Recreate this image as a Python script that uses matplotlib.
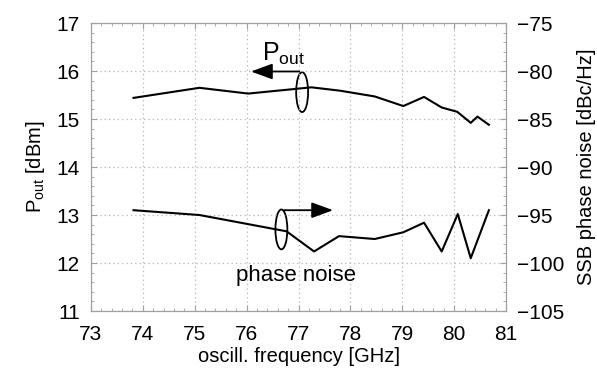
import matplotlib.pyplot as plt
from matplotlib.patches import Ellipse
from matplotlib.ticker import MultipleLocator

plt.rcParams['font.family'] = ['Liberation Sans', 'DejaVu Sans']

# output power vs frequency
f_pout = [73.82, 75.09, 76.03, 77.25, 77.80, 78.47, 79.02, 79.42, 79.76, 80.06, 80.32, 80.45, 80.67]
pout = [15.44, 15.65, 15.53, 15.66, 15.59, 15.47, 15.27, 15.46, 15.24, 15.15, 14.92, 15.05, 14.88]

# SSB phase noise vs frequency
f_pn = [73.82, 75.09, 76.77, 77.30, 77.78, 78.47, 79.02, 79.42, 79.76, 80.07, 80.32, 80.67]
pn = [-94.5, -95.0, -96.7, -98.8, -97.2, -97.5, -96.8, -95.8, -98.8, -94.9, -99.5, -94.5]

x_ticks = [73, 74, 75, 76, 77, 78, 79, 80, 81]
left_ticks = [11, 12, 13, 14, 15, 16, 17]
right_ticks = [-105, -100, -95, -90, -85, -80, -75]

fig = plt.figure(figsize=(5.97, 3.73), dpi=100)
ax = fig.add_axes([0.1524, 0.1662, 0.6952, 0.7721])
ax2 = ax.twinx()

ax.plot(f_pout, pout, color='black', lw=1.5)
ax2.plot(f_pn, pn, color='black', lw=1.5)

ax.set_xlim(73, 81)
ax.set_ylim(11, 17)
ax2.set_ylim(-105, -75)
ax.set_xticks(x_ticks)
ax.set_yticks(left_ticks)
ax2.set_yticks(right_ticks)
ax.xaxis.set_minor_locator(MultipleLocator(0.2))
ax.yaxis.set_minor_locator(MultipleLocator(0.2))
ax2.yaxis.set_minor_locator(MultipleLocator(1))

ax.grid(True, which='major', color='#b5b5b5', linestyle=(0, (1, 2.5)), lw=0.9)
ax.tick_params(which='both', direction='in', top=True, colors='#a0a0a0', labelcolor='black', labelsize=15)
ax.tick_params(which='major', length=4)
ax.tick_params(which='minor', length=2)
ax.tick_params(axis='x', pad=10)
ax.tick_params(axis='y', pad=8)
ax2.tick_params(which='both', direction='in', colors='#a0a0a0', labelcolor='black', labelsize=15, pad=8)
ax2.tick_params(which='major', length=4)
ax2.tick_params(which='minor', length=2)
for a in (ax, ax2):
    for s in a.spines.values():
        s.set_color('#a0a0a0')

ax.set_xlabel('oscill. frequency [GHz]', fontsize=14.5, labelpad=2)
ax.set_ylabel(r'P$_\mathregular{out}$ [dBm]', fontsize=14.5, labelpad=7)
ax2.set_ylabel('SSB phase noise [dBc/Hz]', fontsize=14.5, labelpad=9)

# P_out annotation (left axis)
ax.add_patch(Ellipse((77.07, 15.56), 0.23, 0.83, fill=False, lw=1.3, color='black'))
ax.annotate('', xy=(76.03, 15.99), xytext=(77.07, 15.99),
            arrowprops=dict(arrowstyle='-|>,head_length=0.6,head_width=0.22',
                            color='black', lw=1.3, mutation_scale=22))
ax.text(76.72, 16.22, r'P$_\mathregular{out}$', fontsize=18, ha='center', va='baseline')

# phase noise annotation
ax.add_patch(Ellipse((76.67, 12.7), 0.23, 0.83, fill=False, lw=1.3, color='black'))
ax.annotate('', xy=(77.72, 13.1), xytext=(76.67, 13.1),
            arrowprops=dict(arrowstyle='-|>,head_length=0.6,head_width=0.22',
                            color='black', lw=1.3, mutation_scale=22))
ax.text(76.95, 11.75, 'phase noise', fontsize=16, ha='center', va='center')

fig.savefig('out.png', dpi=100)
